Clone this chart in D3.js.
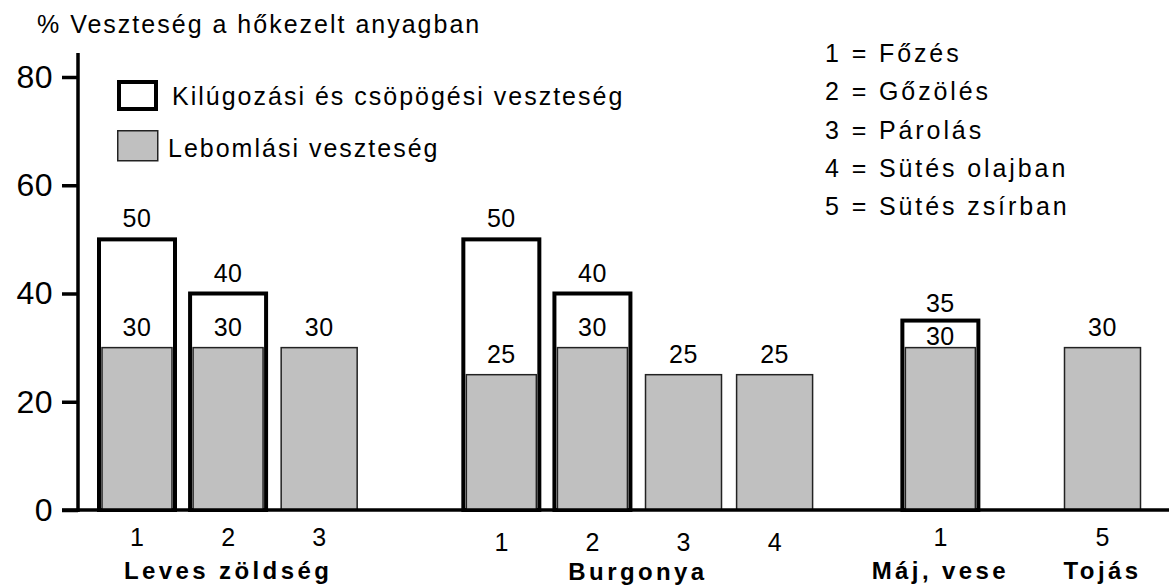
<!DOCTYPE html>
<html>
<head>
<meta charset="utf-8">
<script src="https://cdn.jsdelivr.net/npm/d3@7"></script>
<style>
  body { margin: 0; background: #fff; }
  text { font-family: "Liberation Sans", Arial, sans-serif; fill: #000; }
</style>
</head>
<body>
<div id="chart"></div>
<script>
// data
const yTitle = "% Veszteség a hőkezelt anyagban";
const groupNames = ["Leves zöldség", "Burgonya", "Máj, vese", "Tojás"];
const barGroup = [0, 0, 0, 1, 1, 1, 1, 2, 3];
const barMethod = ["1", "2", "3", "1", "2", "3", "4", "1", "5"];
const degradation = [30, 30, 30, 25, 30, 25, 25, 30, 30];   // Lebomlási veszteség
const totalLoss = [50, 40, null, 50, 40, null, null, 35, null]; // with kilúgozási és csöpögési
const yTicks = [0, 20, 40, 60, 80];
const seriesNames = ["Kilúgozási és csöpögési veszteség", "Lebomlási veszteség"];
const methodLegend = ["1 = Főzés", "2 = Gőzölés", "3 = Párolás", "4 = Sütés olajban", "5 = Sütés zsírban"];

// layout
var width = 1169, height = 586;
var groupGap = [0, 1.0, 0.82, 0.78];   // extra empty slots before each group
var groupDrop = [0, 5, 0, 0];          // Burgonya labels sit a bit lower
var barW = 76;
var gray = "#c0c0c0";

// slot index of every bar
var slots = [];
var s = 0;
barGroup.forEach(function(g, i){
    if (i > 0) {
        s += 1;
        if (g !== barGroup[i-1]) s += groupGap[g];
    }
    slots.push(s);
});

var x = d3.scaleLinear()
    .domain([0, d3.max(slots)])
    .range([137, 1102.5]);

var y = d3.scaleLinear()
    .domain([0, 80])
    .range([510, 77]);

var svg = d3.select("#chart")
    .append("svg")
    .attr("width", width)
    .attr("height", height);

svg.append("rect").attr("width", width).attr("height", height).attr("fill", "#fff");

// title
svg.append("text")
    .attr("x", 37)
    .attr("y", 33)
    .style("font-size", "25px")
    .style("letter-spacing", "2px")
    .text(yTitle);

var axisX = 78;

// y axis
var yAxis = svg.append("g")
    .attr("transform", "translate(" + axisX + ",0)")
    .call(d3.axisLeft(y).tickValues(yTicks).tickSize(16).tickPadding(9).tickSizeOuter(0));
yAxis.select(".domain").remove();
yAxis.selectAll(".tick line").attr("stroke", "#000").attr("stroke-width", 3.5);
yAxis.selectAll(".tick text")
    .style("font-size", "32px")
    .style("letter-spacing", "0.5px")
    .attr("fill", "#000")
    .attr("font-family", null);
yAxis.append("line")
    .attr("x1", 0).attr("x2", 0)
    .attr("y1", y(80) - 24).attr("y2", y(0) + 2)
    .attr("stroke", "#000")
    .attr("stroke-width", 3.5);

// bars
var bars = svg.append("g").selectAll("g")
    .data(degradation.map(function(d, i){ return {i: i, gray: d, total: totalLoss[i]}; }))
    .enter()
    .append("g");

bars.filter(d => d.total != null)
    .append("rect")
    .attr("x", d => x(slots[d.i]) - barW/2)
    .attr("y", d => y(d.total))
    .attr("width", barW)
    .attr("height", d => y(0) - y(d.total))
    .attr("fill", "#fff")
    .attr("stroke", "#000")
    .attr("stroke-width", 4);

bars.append("rect")
    .attr("x", d => x(slots[d.i]) - barW/2 + (d.total != null ? 3 : 0))
    .attr("y", d => y(d.gray))
    .attr("width", d => d.total != null ? barW - 6 : barW)
    .attr("height", d => y(0) - y(d.gray))
    .attr("fill", gray)
    .attr("stroke", "#222")
    .attr("stroke-width", 1.5);

// value labels
bars.append("text")
    .attr("x", d => x(slots[d.i]))
    .attr("y", d => {
        var squeezed = d.total != null && d.total - d.gray < 8;
        return y(d.gray) - (squeezed ? 3 : 12);
    })
    .attr("text-anchor", "middle")
    .style("font-size", "25px")
    .style("letter-spacing", "0.5px")
    .text(d => d.gray);

bars.filter(d => d.total != null)
    .append("text")
    .attr("x", d => x(slots[d.i]))
    .attr("y", d => y(d.total) - (d.total - d.gray < 8 ? 9 : 12))
    .attr("text-anchor", "middle")
    .style("font-size", "25px")
    .style("letter-spacing", "0.5px")
    .text(d => d.total);

// baseline
svg.append("line")
    .attr("x1", axisX - 16).attr("x2", width)
    .attr("y1", y(0)).attr("y2", y(0))
    .attr("stroke", "#000")
    .attr("stroke-width", 3.5);

// method numbers under bars
svg.append("g").selectAll("text")
    .data(barMethod)
    .enter()
    .append("text")
    .attr("x", (d, i) => x(slots[i]))
    .attr("y", (d, i) => y(0) + 36 + groupDrop[barGroup[i]])
    .attr("text-anchor", "middle")
    .style("font-size", "25px")
    .text(d => d);

// group names
svg.append("g").selectAll("text")
    .data(groupNames)
    .enter()
    .append("text")
    .attr("x", (d, g) => d3.mean(slots.filter((v, i) => barGroup[i] === g), v => x(v)))
    .attr("y", (d, g) => y(0) + 69 + Math.min(groupDrop[g], 1))
    .attr("text-anchor", "middle")
    .style("font-size", "24px")
    .style("font-weight", "bold")
    .style("letter-spacing", "3.4px")
    .text(d => d);

// series legend
var legend = svg.append("g").attr("transform", "translate(117,80)");
legend.append("rect")
    .attr("x", 2).attr("y", 2)
    .attr("width", 37).attr("height", 27)
    .attr("fill", "#fff")
    .attr("stroke", "#000")
    .attr("stroke-width", 4);
legend.append("rect")
    .attr("x", 0.75).attr("y", 50.75)
    .attr("width", 40).attr("height", 30)
    .attr("fill", gray)
    .attr("stroke", "#222")
    .attr("stroke-width", 1.5);
legend.selectAll("text.series")
    .data(seriesNames)
    .enter()
    .append("text")
    .attr("class", "series")
    .attr("x", (d, i) => i === 0 ? 55 : 51)
    .attr("y", (d, i) => 25 + i * 52)
    .style("font-size", "25px")
    .style("letter-spacing", "2px")
    .text(d => d);

// method legend
svg.append("g").selectAll("text")
    .data(methodLegend)
    .enter()
    .append("text")
    .attr("x", 825)
    .attr("y", (d, i) => 62 + i * 38.3)
    .style("font-size", "25px")
    .style("letter-spacing", "2.9px")
    .text(d => d);
</script>
</body>
</html>
